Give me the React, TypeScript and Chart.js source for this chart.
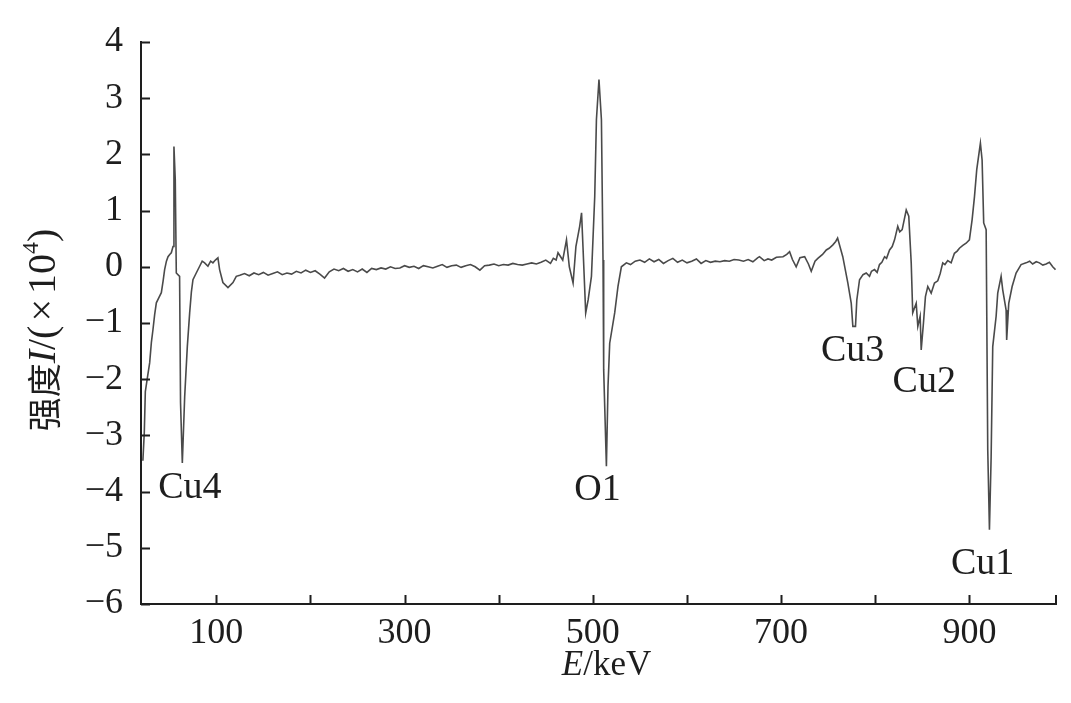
import React, { useEffect, useRef } from 'react';
import { Chart, registerables } from 'chart.js';

Chart.register(...registerables);

// Energy (keV) of each sampled point of the spectrum
const energyKeV: number[] = [
  22, 23.5, 24.6, 27, 29.2, 31, 32.7, 34.5, 36.3, 39, 41.6, 43.5, 45.1, 47, 48.7, 50.5, 52.2, 54, 55, 56.4,
  57.5, 61, 62, 63.9, 66.4, 69.2, 71.7, 73.5, 75.2, 78.7, 82.3, 85, 87.6, 91.1, 94, 96.4, 99, 101.7, 103.5, 107,
  112.4, 117.7, 121.2,
  125, 130, 135, 140, 145, 150, 155, 160, 165, 170, 175, 180, 185, 190, 195, 200, 205, 210, 215, 220,
  225, 230, 235, 240, 245, 250, 255, 260, 265, 270, 275, 280, 285, 290, 295, 300, 305, 310, 315, 320,
  325, 330, 335, 340, 345, 350, 355, 360, 365, 370, 375, 380, 385, 390, 395, 400, 405, 410, 415, 420,
  425, 430, 435, 440, 445, 450, 455, 458, 461, 463, 468, 472, 475, 479, 482, 486, 488, 489.5, 492.4, 495,
  498.5, 502, 503.8, 506.5, 509.1, 510.8, 511.5, 514.4, 516.1, 517.9, 523.2, 526.7, 530.3, 535.6,
  540, 545, 550, 555, 560, 565, 570, 575, 580, 585, 590, 595, 600, 605, 610, 615, 620, 625, 630, 635,
  640, 645, 650, 655, 660, 665, 670, 675, 677, 682, 686, 690, 695, 702, 706, 709, 712, 716, 720, 725,
  729, 732, 736, 739, 744, 748, 751, 755, 758, 760, 765.5, 770.9, 774.5, 776.2, 779, 780.4, 783.3, 787, 790.4, 793.9,
  796, 799.2, 802, 804.5, 807, 809.9, 812, 815.2, 818, 820.5, 823.9, 826, 828.6, 832.9, 835.6, 838.2, 839.8, 843.5, 845.2, 847.7,
  848.8, 851.2, 853.3, 855.8, 859.4, 862.9, 866.4, 869, 871.7, 874, 877, 880.6, 884.1, 887, 889.4, 893, 896.5, 900, 902.9, 905.4,
  907.8, 910.7, 911.7, 913.5, 915.2, 917.8, 919.5, 921.3, 923.1, 924.8, 928.4, 930.1, 933.7, 935.4, 939, 939.6, 941.8, 945.4, 949.6, 954.9,
  960.2, 964, 967.2, 971, 974.4, 978, 981.5, 985, 988.5, 991.5,
];

// Intensity I (x10^4) read at each energy above
const intensity: number[] = [
  -3.45, -2.95, -2.22, -1.95, -1.71, -1.35, -1.12, -0.85, -0.64, -0.55, -0.46, -0.25, -0.05, 0.1, 0.18, 0.22, 0.25, 0.36, 2.14, 1.55,
  -0.11, -0.17, -2.42, -3.49, -2.31, -1.42, -0.82, -0.45, -0.23, -0.11, 0.01, 0.1, 0.07, 0.01, 0.1, 0.07, 0.12, 0.16, -0.05, -0.28,
  -0.37, -0.28, -0.17,
  -0.15, -0.12, -0.16, -0.11, -0.14, -0.1, -0.15, -0.12, -0.09, -0.14, -0.11, -0.13, -0.08, -0.11, -0.06, -0.1, -0.07, -0.13, -0.2, -0.09,
  -0.04, -0.07, -0.03, -0.08, -0.05, -0.09, -0.04, -0.1, -0.03, -0.05, -0.02, -0.04, 0.0, -0.03, -0.02, 0.02, -0.01, 0.01, -0.03, 0.02,
  0.0, -0.02, 0.01, 0.04, -0.01, 0.02, 0.03, -0.01, 0.02, 0.04, 0.0, -0.06, 0.02, 0.03, 0.05, 0.02, 0.04, 0.03, 0.06, 0.04,
  0.03, 0.05, 0.07, 0.05, 0.08, 0.12, 0.06, 0.15, 0.12, 0.25, 0.12, 0.48, 0.0, -0.29, 0.36, 0.72, 0.96, 0.36, -0.82, -0.59,
  -0.17, 1.25, 2.62, 3.33, 2.62, 0.12, -1.83, -3.55, -2.13, -1.36, -0.82, -0.35, 0.0, 0.07,
  0.04, 0.1, 0.12, 0.08, 0.14, 0.09, 0.13, 0.06, 0.11, 0.15, 0.08, 0.12, 0.07, 0.1, 0.14, 0.06, 0.11, 0.08, 0.1, 0.09,
  0.11, 0.1, 0.13, 0.12, 0.1, 0.13, 0.09, 0.16, 0.18, 0.11, 0.14, 0.12, 0.17, 0.18, 0.22, 0.27, 0.13, 0.0, 0.16, 0.18,
  0.05, -0.08, 0.1, 0.15, 0.22, 0.3, 0.33, 0.39, 0.45, 0.51, 0.18, -0.29, -0.65, -1.06, -1.06, -0.59, -0.23, -0.14, -0.11, -0.17,
  -0.08, -0.05, -0.1, 0.04, 0.08, 0.18, 0.15, 0.3, 0.36, 0.48, 0.72, 0.62, 0.66, 1.01, 0.9, 0.07, -0.82, -0.65, -1.06, -0.88,
  -1.48, -1.0, -0.53, -0.35, -0.47, -0.29, -0.25, -0.12, 0.07, 0.04, 0.11, 0.07, 0.24, 0.28, 0.33, 0.38, 0.42, 0.48, 0.84, 1.25,
  1.73, 2.08, 2.2, 1.9, 0.78, 0.66, -3.26, -4.68, -3.38, -1.42, -0.88, -0.47, -0.17, -0.41, -0.77, -1.3, -0.65, -0.35, -0.11, 0.04,
  0.07, 0.1, 0.05, 0.09, 0.07, 0.03, 0.05, 0.08, 0.0, -0.05,
];

const xTickValues: number[] = [100, 200, 300, 400, 500, 600, 700, 800, 900];
const xTickLabels: number[] = [100, 300, 500, 700, 900];

const peakNames: string[] = ['Cu4', 'O1', 'Cu3', 'Cu2', 'Cu1'];
const peakLabelE: number[] = [72, 505, 776, 852, 914];
const peakLabelI: number[] = [-3.93, -3.97, -1.49, -2.05, -5.28];

const SERIF = '"Liberation Serif", "DejaVu Serif", serif';
const INK = '#1e1e1e';

const inwardTicks = {
  id: 'inwardTicks',
  afterDraw(chart: any) {
    const { ctx, chartArea, scales } = chart;
    const x = scales.x;
    const y = scales.y;
    ctx.save();
    ctx.strokeStyle = INK;
    ctx.lineWidth = 2;
    ctx.beginPath();
    for (const t of x.ticks) {
      const px = Math.round(x.getPixelForValue(t.value)) + 0.5;
      ctx.moveTo(px, chartArea.bottom);
      ctx.lineTo(px, chartArea.bottom - 9);
    }
    ctx.moveTo(chartArea.right, chartArea.bottom);
    ctx.lineTo(chartArea.right, chartArea.bottom - 9);
    for (const t of y.ticks) {
      const py = Math.round(y.getPixelForValue(t.value)) + 0.5;
      ctx.moveTo(chartArea.left, py);
      ctx.lineTo(chartArea.left + 9, py);
    }
    ctx.stroke();
    ctx.restore();
  },
};

const peakLabels = {
  id: 'peakLabels',
  afterDatasetsDraw(chart: any) {
    const { ctx, scales } = chart;
    ctx.save();
    ctx.fillStyle = INK;
    ctx.font = `38px ${SERIF}`;
    ctx.textAlign = 'center';
    ctx.textBaseline = 'middle';
    peakNames.forEach((name, i) => {
      ctx.fillText(name, scales.x.getPixelForValue(peakLabelE[i]), scales.y.getPixelForValue(peakLabelI[i]));
    });
    ctx.restore();
  },
};

const axisTitles = {
  id: 'axisTitles',
  afterDraw(chart: any) {
    const { ctx, chartArea } = chart;
    ctx.save();
    ctx.fillStyle = INK;
    ctx.textBaseline = 'middle';
    ctx.textAlign = 'left';

    // Y title, rotated
    const yPieces = [
      { t: '强度', f: '34px "Noto Sans CJK SC"', dy: 0, gap: 0 },
      { t: 'I', f: `italic 40px ${SERIF}`, dy: 0, gap: 0 },
      { t: '/(', f: `40px ${SERIF}`, dy: 0, gap: 4 },
      { t: '×', f: `40px ${SERIF}`, dy: 0, gap: 5 },
      { t: '10', f: `40px ${SERIF}`, dy: 0, gap: 0 },
      { t: '4', f: `24px ${SERIF}`, dy: -12, gap: 0 },
      { t: ')', f: `40px ${SERIF}`, dy: 0, gap: 0 },
    ];
    let total = 0;
    const widths = yPieces.map((p) => {
      ctx.font = p.f;
      const w = ctx.measureText(p.t).width + p.gap;
      total += w;
      return w;
    });
    ctx.translate(44, 330);
    ctx.rotate(-Math.PI / 2);
    let cx = -total / 2;
    yPieces.forEach((p, i) => {
      ctx.font = p.f;
      ctx.fillText(p.t, cx, p.dy);
      cx += widths[i];
    });
    ctx.setTransform(1, 0, 0, 1, 0, 0);

    // X title
    const xPieces = [
      { t: 'E', f: `italic 35px ${SERIF}` },
      { t: '/keV', f: `35px ${SERIF}` },
    ];
    let xt = 0;
    const xw = xPieces.map((p) => {
      ctx.font = p.f;
      const w = ctx.measureText(p.t).width;
      xt += w;
      return w;
    });
    let sx = (chartArea.left + chartArea.right) / 2 + 8 - xt / 2;
    xPieces.forEach((p, i) => {
      ctx.font = p.f;
      ctx.fillText(p.t, sx, 666);
      sx += xw[i];
    });
    ctx.restore();
  },
};

export default function App() {
  const canvasRef = useRef<HTMLCanvasElement | null>(null);

  useEffect(() => {
    document.body.style.margin = '0';
    const canvas = canvasRef.current;
    if (!canvas) return;
    const points = energyKeV.map((e, i) => ({ x: e, y: intensity[i] }));
    const chart = new Chart(canvas, {
      type: 'line',
      data: {
        datasets: [
          {
            data: points,
            borderColor: '#4a4a4a',
            borderWidth: 1.6,
            pointRadius: 0,
            tension: 0,
            fill: false,
          },
        ],
      },
      options: {
        animation: false,
        responsive: false,
        devicePixelRatio: 1,
        layout: { padding: { top: 42, right: 15, left: 0, bottom: 0 } },
        plugins: {
          legend: { display: false },
          tooltip: { enabled: false },
        },
        scales: {
          x: {
            type: 'linear',
            min: 20,
            max: 992,
            afterBuildTicks: (scale: any) => {
              scale.ticks = xTickValues.map((value) => ({ value }));
            },
            afterFit: (scale: any) => {
              scale.height = 99;
            },
            grid: { display: true, drawOnChartArea: false, drawTicks: false },
            border: { display: true, color: INK, width: 2 },
            ticks: {
              autoSkip: false,
              maxRotation: 0,
              padding: 8,
              color: INK,
              font: { family: SERIF, size: 36 },
              callback: (value: any) => (xTickLabels.includes(Number(value)) ? String(value) : ''),
            },
          },
          y: {
            type: 'linear',
            min: -6,
            max: 4,
            afterFit: (scale: any) => {
              scale.width = 141;
            },
            grid: { display: true, drawOnChartArea: false, drawTicks: false },
            border: { display: true, color: INK, width: 2 },
            ticks: {
              stepSize: 1,
              padding: 18,
              color: INK,
              font: { family: SERIF, size: 36 },
              callback: (value: any) => (Number(value) < 0 ? '\u2212' + Math.abs(Number(value)) : String(value)),
            },
          },
        },
      },
      plugins: [inwardTicks, peakLabels, axisTitles],
    });
    return () => chart.destroy();
  }, []);

  return (
    <div style={{ width: 1071, height: 703, background: '#fff' }}>
      <canvas ref={canvasRef} width={1071} height={703} style={{ display: 'block' }} />
    </div>
  );
}
